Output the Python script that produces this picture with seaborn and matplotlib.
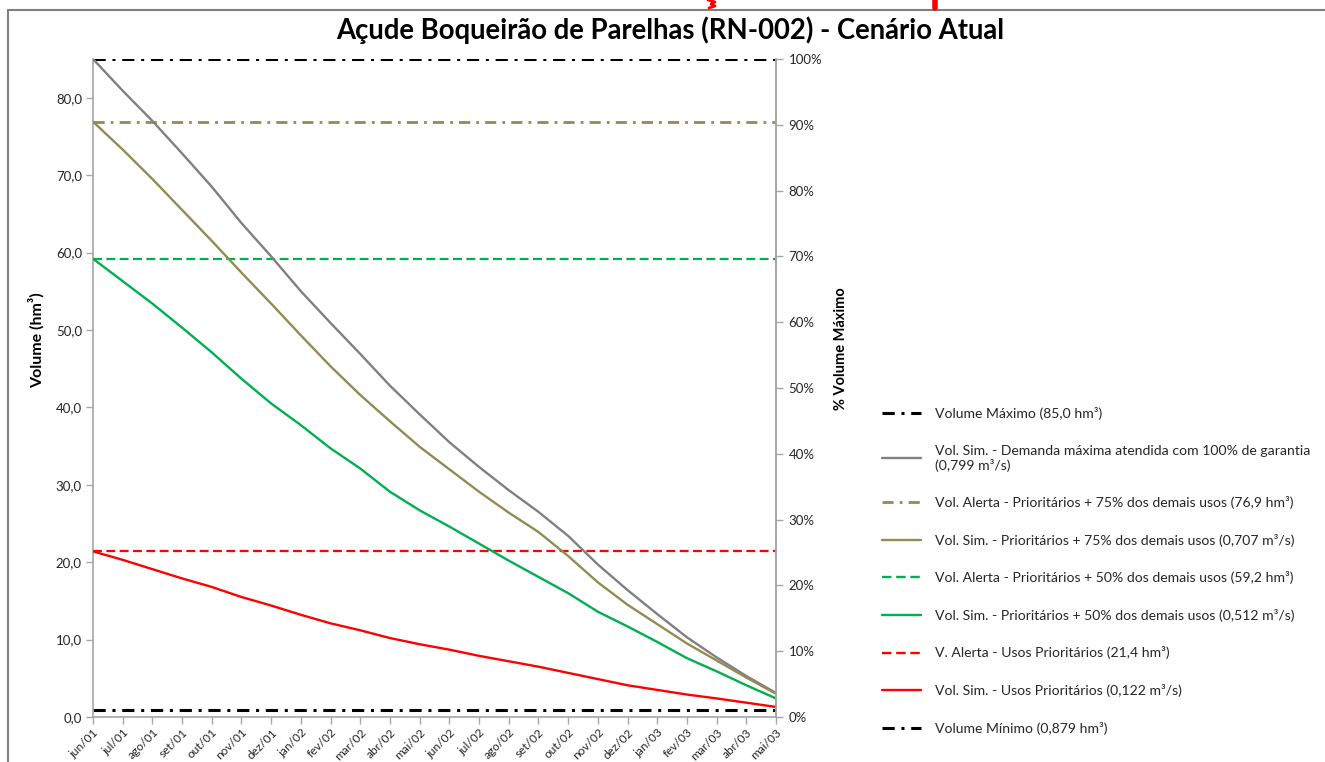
import numpy as np
import pandas as pd
import matplotlib
matplotlib.use("Agg")
import matplotlib.pyplot as plt
import seaborn as sns
from matplotlib.lines import Line2D

# ---------------- data ----------------
months = ["jun/01", "jul/01", "ago/01", "set/01", "out/01", "nov/01", "dez/01",
          "jan/02", "fev/02", "mar/02", "abr/02", "mai/02", "jun/02", "jul/02",
          "ago/02", "set/02", "out/02", "nov/02", "dez/02", "jan/03", "fev/03",
          "mar/03", "abr/03", "mai/03"]

vol_sim_demanda_max = [85.0, 80.9, 77.0, 72.8, 68.5, 63.8, 59.5, 55.0, 50.9, 46.9,
                       42.8, 39.1, 35.5, 32.3, 29.3, 26.5, 23.4, 19.7, 16.4, 13.3,
                       10.3, 7.7, 5.3, 3.1]
vol_sim_prior_75 = [76.9, 73.3, 69.5, 65.5, 61.5, 57.4, 53.4, 49.3, 45.3, 41.6,
                    38.2, 34.9, 32.0, 29.1, 26.4, 23.9, 20.8, 17.4, 14.5, 12.0,
                    9.5, 7.3, 5.1, 3.0]
vol_sim_prior_50 = [59.2, 56.3, 53.4, 50.3, 47.1, 43.7, 40.5, 37.7, 34.7, 32.1,
                    29.1, 26.7, 24.6, 22.4, 20.2, 18.1, 16.0, 13.6, 11.7, 9.7,
                    7.6, 5.9, 4.1, 2.4]
vol_sim_prior = [21.4, 20.3, 19.1, 17.9, 16.8, 15.5, 14.4, 13.2, 12.1, 11.2,
                 10.2, 9.4, 8.7, 7.9, 7.2, 6.5, 5.7, 4.9, 4.1, 3.5,
                 2.9, 2.4, 1.85, 1.3]

vol_maximo = 85.0
vol_alerta_75 = 76.9
vol_alerta_50 = 59.2
vol_alerta_prior = 21.4
vol_minimo = 0.879

y_ticks = [0, 10, 20, 30, 40, 50, 60, 70, 80]
pct_ticks = [0, 10, 20, 30, 40, 50, 60, 70, 80, 90, 100]

title = "Açude Boqueirão de Parelhas (RN-002) - Cenário Atual"
labels = [
    "Volume Máximo (85,0 hm³)",
    "Vol. Sim. - Demanda máxima atendida com 100% de garantia\n(0,799 m³/s)",
    "Vol. Alerta - Prioritários + 75% dos demais usos (76,9 hm³)",
    "Vol. Sim. - Prioritários + 75% dos demais usos (0,707 m³/s)",
    "Vol. Alerta - Prioritários + 50% dos demais usos (59,2 hm³)",
    "Vol. Sim. - Prioritários + 50% dos demais usos (0,512 m³/s)",
    "V. Alerta - Usos Prioritários (21,4 hm³)",
    "Vol. Sim. - Usos Prioritários (0,122 m³/s)",
    "Volume Mínimo (0,879 hm³)",
]

# ---------------- style ----------------
sns.set_theme(style="white")
plt.rcParams['font.family'] = ['Lato', 'DejaVu Sans']

GRAY = "#808080"
OLIVE = "#948A54"
GREEN = "#00B050"
RED = "#FF0000"
BLACK = "#000000"
AXC = "#a6a6a6"
TXT = "#262626"

W, H = 1325, 762
fig = plt.figure(figsize=(W / 100, H / 100), dpi=100)
ax = fig.add_axes([93 / W, 1 - 717 / H, (776 - 93) / W, (717 - 59) / H])

df = pd.DataFrame({
    "idx": np.arange(len(months)),
    "gray": vol_sim_demanda_max,
    "olive": vol_sim_prior_75,
    "green": vol_sim_prior_50,
    "red": vol_sim_prior,
})

dashdot = (0, (4, 2.2, 1, 2.2))
dashed = (0, (4, 2))

# horizontal reference lines
ax.axhline(vol_maximo, color=BLACK, lw=2.2, ls=dashdot, zorder=2)
ax.axhline(vol_alerta_75, color=OLIVE, lw=2.0, ls=dashdot, zorder=2)
ax.axhline(vol_alerta_50, color=GREEN, lw=1.6, ls=dashed, zorder=2)
ax.axhline(vol_alerta_prior, color=RED, lw=1.6, ls=dashed, zorder=2)
ax.axhline(vol_minimo, color=BLACK, lw=2.2, ls=dashdot, zorder=2)

# simulated series
sns.lineplot(data=df, x="idx", y="gray", ax=ax, color=GRAY, lw=1.7, zorder=3)
sns.lineplot(data=df, x="idx", y="olive", ax=ax, color=OLIVE, lw=1.7, zorder=3)
sns.lineplot(data=df, x="idx", y="green", ax=ax, color=GREEN, lw=1.7, zorder=3)
sns.lineplot(data=df, x="idx", y="red", ax=ax, color=RED, lw=1.7, zorder=3)

ax.set_xlim(0, len(months) - 1)
ax.set_ylim(0, vol_maximo)
ax.set_xticks(df["idx"])
ax.set_xticklabels(months, rotation=45, ha="right", rotation_mode="anchor",
                   fontsize=8.6, color=TXT)
ax.set_yticks(y_ticks)
ax.set_yticklabels([f"{v:.1f}".replace(".", ",") for v in y_ticks], fontsize=9.5, color=TXT)
ax.tick_params(axis="both", direction="out", length=5, width=1, color=AXC,
               left=True, bottom=True, pad=3)
ax.tick_params(axis="x", pad=2)
ax.set_xlabel("")
ax.set_ylabel("Volume (hm³)", fontsize=11.5, fontweight="bold", color=BLACK)
ax.yaxis.set_label_coords(-0.071, 0.572)

ax.spines["top"].set_visible(False)
for s in ["left", "bottom", "right"]:
    ax.spines[s].set_color(AXC)
    ax.spines[s].set_linewidth(1.2)

ax2 = ax.twinx()
ax2.set_ylim(0, 100)
ax2.set_yticks(pct_ticks)
ax2.set_yticklabels([f"{v}%" for v in pct_ticks], fontsize=9.5, color=TXT)
ax2.tick_params(axis="y", direction="out", length=5, width=1, color=AXC, right=True, pad=4)
ax2.set_ylabel("% Volume Máximo", fontsize=10.5, fontweight="bold", color=BLACK)
ax2.yaxis.set_label_coords(1.085, 0.56)
ax2.spines["top"].set_visible(False)
ax2.spines["left"].set_visible(False)
ax2.spines["bottom"].set_visible(False)
ax2.spines["right"].set_color(AXC)
ax2.spines["right"].set_linewidth(1.2)
ax2.grid(False)
ax.grid(False)

fig.text(670 / W, 1 - 30 / H, title, ha="center", va="center",
         fontsize=19.8, fontweight="bold", color=BLACK)

# legend
handles = [
    Line2D([], [], color=BLACK, lw=2.2, ls=dashdot),
    Line2D([], [], color=GRAY, lw=1.7),
    Line2D([], [], color=OLIVE, lw=2.0, ls=dashdot),
    Line2D([], [], color=OLIVE, lw=1.7),
    Line2D([], [], color=GREEN, lw=1.7, ls=dashed),
    Line2D([], [], color=GREEN, lw=1.7),
    Line2D([], [], color=RED, lw=1.7, ls=dashed),
    Line2D([], [], color=RED, lw=1.7),
    Line2D([], [], color=BLACK, lw=2.2, ls=dashdot),
]
leg = fig.legend(handles, labels, loc="upper left",
                 bbox_to_anchor=(882 / W, 1 - 407 / H), frameon=False,
                 fontsize=10.1, handlelength=2.75, handletextpad=1.05,
                 labelspacing=1.75, borderaxespad=0, borderpad=0)
for t in leg.get_texts():
    t.set_color(TXT)

# outer chart frame (partially clipped)
fig.add_artist(Line2D([8 / W, 8 / W], [0, 1 - 10 / H], color="#7f7f7f", lw=1.5,
                      transform=fig.transFigure))
fig.add_artist(Line2D([8 / W, 1], [1 - 10 / H, 1 - 10 / H], color="#7f7f7f", lw=1.5,
                      transform=fig.transFigure))
# clipped red marks at the very top
fig.add_artist(Line2D([935 / W, 935 / W], [1, 1 - 8 / H], color=RED, lw=4,
                      transform=fig.transFigure))
mark_x = [708, 715, 711, 715, 709]
mark_y = [0, 2, 4, 6, 8]
fig.add_artist(Line2D([v / W for v in mark_x], [1 - v / H for v in mark_y],
                      color=RED, lw=2, transform=fig.transFigure))

fig.savefig("out.png", dpi=100)
